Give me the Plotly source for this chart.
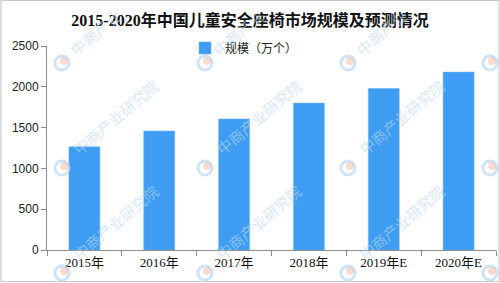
import plotly.graph_objects as go

# ---- data ----
categories = ["2015年", "2016年", "2017年", "2018年", "2019年E", "2020年E"]
values = [1265, 1458, 1605, 1800, 1980, 2180]
series_name = "规模（万个）"
title_text = "2015-2020年中国儿童安全座椅市场规模及预测情况"
y_ticks = [0, 500, 1000, 1500, 2000, 2500]
watermark_text = "中商产业研究院"
watermark_short = "中商产业"

# ---- layout geometry (pixels) ----
W, H = 500, 283
L, R, T, B = 47, 4, 46, 33
PW, PH = W - L - R, H - T - B


def px(x):
    return (x - L) / PW


def py(y):
    return (H - B - y) / PH


fig = go.Figure()
fig.add_trace(go.Bar(
    x=categories, y=values, name=series_name,
    marker=dict(color="#3E9DF2", line=dict(color="#6CB5F5", width=0.6)),
    showlegend=True,
))

shapes = []
annotations = []

# watermarks
logo_xs = [62, 205, 348, 490]
logo_ys = [63, 168, 273]
wm_font = dict(family="Noto Sans CJK SC", size=15, color="rgba(185,215,242,0.6)")
for lx in logo_xs:
    for ly in logo_ys:
        if lx + 53 < 470:
            if ly < 100:
                annotations.append(dict(
                    x=px(lx + 33), y=py(ly - 31), xref="paper", yref="paper",
                    text=watermark_short, showarrow=False, textangle=-40,
                    font=wm_font, xanchor="center", yanchor="middle",
                ))
            else:
                annotations.append(dict(
                    x=px(lx + 53), y=py(ly - 51), xref="paper", yref="paper",
                    text=watermark_text, showarrow=False, textangle=-40,
                    font=wm_font, xanchor="center", yanchor="middle",
                ))
        shapes.append(dict(
            type="circle", xref="paper", yref="paper",
            xsizemode="pixel", ysizemode="pixel",
            xanchor=px(lx), yanchor=py(ly),
            x0=-7, x1=7, y0=-7, y1=7,
            line=dict(color="rgba(185,215,242,0.7)", width=3),
            fillcolor="rgba(0,0,0,0)", layer="above",
        ))
        shapes.append(dict(
            type="circle", xref="paper", yref="paper",
            xsizemode="pixel", ysizemode="pixel",
            xanchor=px(lx + 2), yanchor=py(ly - 2),
            x0=-4, x1=4, y0=-4, y1=4,
            line=dict(width=0),
            fillcolor="rgba(246,190,170,0.55)", layer="above",
        ))

# outer border
shapes.append(dict(
    type="rect", xref="paper", yref="paper",
    x0=px(1), x1=px(499), y0=py(281.5), y1=py(0.5),
    line=dict(color="#C8C8C8", width=1.2), fillcolor="rgba(0,0,0,0)",
    layer="below",
))

fig.update_layout(
    width=W, height=H,
    margin=dict(l=L, r=R, t=T, b=B, pad=0),
    paper_bgcolor="white", plot_bgcolor="white",
    bargap=0.587,
    title=dict(
        text="<b>" + title_text + "</b>",
        x=0.5, xref="container", xanchor="center",
        y=1 - 20 / H, yanchor="middle",
        font=dict(family="Liberation Serif, Noto Sans CJK SC", size=16, color="#111"),
    ),
    legend=dict(
        orientation="h", x=px(244), xanchor="center", y=py(48), yanchor="middle",
        font=dict(family="Noto Sans CJK SC", size=12, color="#222"),
        bgcolor="rgba(0,0,0,0)", itemwidth=30,
    ),
    xaxis=dict(
        showline=True, linecolor="#8C8C8C", linewidth=1,
        ticks="outside", ticklen=5, tickcolor="#8C8C8C",
        tickson="boundaries", showgrid=False,
        tickfont=dict(family="Liberation Serif, Noto Sans CJK SC", size=13, color="#111"),
    ),
    yaxis=dict(
        range=[0, 2500], tickvals=y_ticks,
        showline=True, linecolor="#8C8C8C", linewidth=1,
        ticks="outside", ticklen=5, tickcolor="#8C8C8C",
        showgrid=False, zeroline=False,
        tickfont=dict(family="Liberation Sans, Arial", size=12, color="#222"),
    ),
    shapes=shapes,
    annotations=annotations,
)

fig.write_html("out.html")
